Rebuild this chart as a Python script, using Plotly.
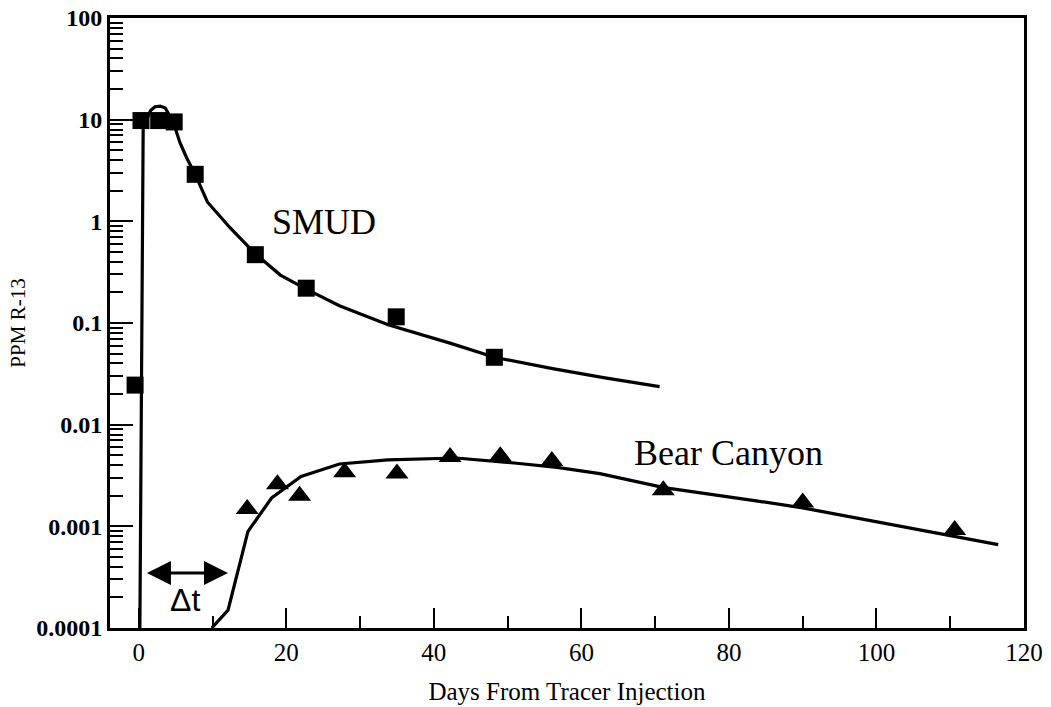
import plotly.graph_objects as go

# SMUD measured points (squares)
smud_x = [-0.5, 0.3, 2.7, 4.8, 7.65, 15.8, 22.7, 34.9, 48.2]
smud_y = [0.0245, 9.8, 9.8, 9.5, 2.9, 0.47, 0.22, 0.115, 0.046]

# SMUD model curve
smud_fit_x = [0.15, 0.6, 1.2, 1.6, 2.2, 2.9, 3.6, 4.0, 4.3, 5.0, 5.6, 6.5, 7.65, 9.3, 12.4,
              15.8, 19.2, 22.7, 27.2, 33.8, 42.3, 48.2, 56.1, 63.0, 70.6]
smud_fit_y = [0.0001, 9.0, 10.5, 12.3, 13.4, 13.6, 13.0, 11.5, 10.0, 8.0, 5.9, 4.2, 2.9, 1.55, 0.86,
              0.48, 0.296, 0.215, 0.148, 0.096, 0.063, 0.046, 0.0356, 0.029, 0.0237]

# Bear Canyon measured points (triangles)
bear_x = [14.7, 18.8, 21.8, 27.9, 35.0, 42.2, 49.0, 56.0, 71.1, 90.0, 110.6]
bear_y = [0.00148, 0.0026, 0.0020, 0.0034, 0.0033, 0.0048, 0.0049, 0.0044, 0.00227, 0.00172, 0.00092]

# Bear Canyon model curve
bear_fit_x = [9.9, 12.1, 14.8, 18.0, 22.0, 27.2, 33.8, 43.0, 50.9, 56.7, 62.5, 71.2, 83.7, 90.0, 116.5]
bear_fit_y = [0.0001, 0.00015, 0.00089, 0.0019, 0.0031, 0.0041, 0.0045, 0.0047, 0.0042, 0.0038,
              0.0033, 0.0024, 0.00178, 0.00152, 0.00066]

y_tickvals = [0.0001, 0.001, 0.01, 0.1, 1, 10, 100]
y_ticktext = ["0.0001", "0.001", "0.01", "0.1", "1", "10", "100"]
x_tickvals = [0, 20, 40, 60, 80, 100, 120]

minor_y = [m * d for d in [0.0001, 0.001, 0.01, 0.1, 1, 10] for m in range(2, 10)]

fig = go.Figure()
fig.add_trace(go.Scatter(x=smud_fit_x, y=smud_fit_y, mode="lines",
                         line=dict(color="black", width=3.2), showlegend=False))
fig.add_trace(go.Scatter(x=bear_fit_x, y=bear_fit_y, mode="lines",
                         line=dict(color="black", width=3.2), showlegend=False))
fig.add_trace(go.Scatter(x=smud_x, y=smud_y, mode="markers",
                         marker=dict(symbol="square", size=17, color="black"), showlegend=False))
fig.add_trace(go.Scatter(x=bear_x, y=bear_y, mode="markers",
                         marker=dict(symbol="triangle-up", size=20, color="black"), showlegend=False))

serif = "Liberation Serif, Times New Roman, serif"

fig.update_layout(
    width=1051, height=707,
    margin=dict(l=110, r=27, t=18, b=79),
    paper_bgcolor="white", plot_bgcolor="white",
    xaxis=dict(
        range=[-3.9, 120], tickvals=x_tickvals, ticks="inside", ticklen=20, tickwidth=2,
        tickcolor="black", showline=True, linecolor="black", linewidth=3, mirror=True,
        showgrid=False, zeroline=False, automargin=False,
        tickfont=dict(family=serif, size=25, color="black"),
        minor=dict(dtick=10, ticks="inside", ticklen=12, tickwidth=2, tickcolor="black"),
        title=dict(text="Days From Tracer Injection", font=dict(family=serif, size=25, color="black"),
                   standoff=18),
    ),
    yaxis=dict(
        type="log", range=[-4, 2], tickvals=y_tickvals, ticktext=y_ticktext,
        ticks="inside", ticklen=23, tickwidth=2, tickcolor="black",
        showline=True, linecolor="black", linewidth=3, mirror=True,
        showgrid=False, zeroline=False, automargin=False,
        tickfont=dict(family=serif, size=24, color="black", weight="bold"),
        minor=dict(tickvals=minor_y, ticks="inside", ticklen=13, tickwidth=2, tickcolor="black"),
        title=dict(text="PPM R-13", font=dict(family=serif, size=21, color="black"),
                   standoff=5),
    ),
    annotations=[
        dict(x=25.1, y=-0.01, xref="x", yref="y", text="SMUD", showarrow=False,
             font=dict(family=serif, size=36, color="black")),
        dict(x=79.9, y=-2.28, xref="x", yref="y", text="Bear Canyon", showarrow=False,
             font=dict(family=serif, size=36, color="black")),
        dict(x=12.1, y=-3.46, ax=0.9, ay=-3.46, xref="x", yref="y", axref="x", ayref="y",
             text="", showarrow=True, arrowhead=2, arrowside="end+start", arrowsize=1.6,
             arrowwidth=3, arrowcolor="black"),
        dict(x=6.2, y=-3.725, xref="x", yref="y", text="Δt", showarrow=False,
             font=dict(family="Liberation Sans, Arial, sans-serif", size=32, color="black")),
    ],
)

fig.write_html("out.html")
